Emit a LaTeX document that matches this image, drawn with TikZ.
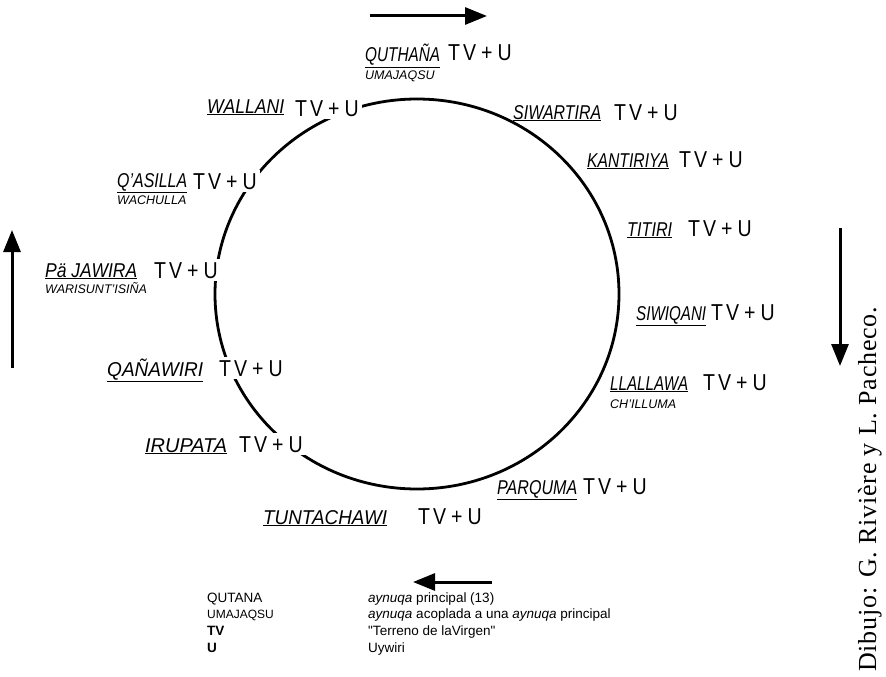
\documentclass[tikz,border=0pt]{standalone}
\usepackage{fontspec}
\usepackage{graphicx}
\setmainfont{Liberation Sans}
\newfontfamily\tvfont[FakeStretch=0.85]{Liberation Sans}
\newfontfamily\qfont[Ligatures=TeXOff]{Liberation Sans}
\newfontfamily\creditfont[LetterSpace=3]{Liberation Serif}
\usetikzlibrary{arrows.meta}
\newcommand{\tvu}{T\kern3pt V\kern5pt+\kern5pt U}
\newcommand{\nm}[2]{\resizebox{#1pt}{\height}{\underline{#2}}}
\begin{document}
\begin{tikzpicture}[x=1pt,y=-1pt,
  namelbl/.style={anchor=base west,inner sep=0pt,font=\fontsize{20}{22}\selectfont\itshape},
  sublbl/.style={anchor=base west,inner sep=0pt,font=\fontsize{12.5}{14}\selectfont\itshape},
  tvlbl/.style={anchor=base west,inner sep=3pt,fill=white,font=\fontsize{23}{26}\selectfont\tvfont},
  legA/.style={anchor=base west,inner sep=0pt,font=\fontsize{13.5}{16}\selectfont},
  bigarrow/.style={line width=3pt,-{Triangle[length=22pt,width=17pt]}}]
\useasboundingbox (0,0) rectangle (886,677);
% cycle
\draw[line width=2.8pt] (417,294) ellipse [x radius=202, y radius=195];
% names
\node[namelbl] (quthana) at (365,62) {\nm{75}{QUTHAÑA}};
\node[tvlbl] (quthanaTV) at (445,61) {\tvu};
\node[sublbl] (umajaqsu) at (365,79) {UMAJAQSU};
\node[namelbl] (wallani) at (207,113) {\nm{77}{WALLANI}};
\node[tvlbl] (wallaniTV) at (292,116) {\tvu};
\node[namelbl] (siwartira) at (513,119) {\nm{88}{SIWARTIRA}};
\node[tvlbl] (siwartiraTV) at (611,120) {\tvu};
\node[namelbl] (kantiriya) at (587,167) {\nm{82}{KANTIRIYA}};
\node[tvlbl] (kantiriyaTV) at (676,167) {\tvu};
\node[namelbl] (qasilla) at (117,187) {\nm{70}{Q'ASILLA}};
\node[tvlbl] (qasillaTV) at (190,189) {\tvu};
\node[sublbl] (wachulla) at (117,204) {WACHULLA};
\node[namelbl] (titiri) at (627,236) {\nm{45}{TITIRI}};
\node[tvlbl] (titiriTV) at (685,236) {\tvu};
\node[namelbl] (pajawira) at (45,277) {\nm{92}{Pä JAWIRA}};
\node[tvlbl] (pajawiraTV) at (151,278) {\tvu};
\node[sublbl] (warisuntisina) at (45,293) {WARISUNT'ISIÑA};
\node[namelbl] (siwiqani) at (636,320) {\nm{70}{SIWIQANI}};
\node[tvlbl] (siwiqaniTV) at (708,320) {\tvu};
\node[namelbl] (qanawiri) at (107,376) {\nm{96}{QAÑAWIRI}};
\node[tvlbl] (qanawiriTV) at (216,376) {\tvu};
\node[namelbl] (llallawa) at (610,390) {\nm{78}{LLALLAWA}};
\node[tvlbl] (llallawaTV) at (700,390) {\tvu};
\node[sublbl] (chilluma) at (610,408) {CH'ILLUMA};
\node[namelbl] (irupata) at (145,452) {\nm{82}{IRUPATA}};
\node[tvlbl] (irupataTV) at (236,452) {\tvu};
\node[namelbl] (parquma) at (497,494) {\nm{80}{PARQUMA}};
\node[tvlbl] (parqumaTV) at (580,494) {\tvu};
\node[namelbl] (tuntachawi) at (263,524) {\nm{124}{TUNTACHAWI}};
\node[tvlbl] (tuntachawiTV) at (415,524) {\tvu};
% direction arrows
\coordinate (topS) at (370,16);  \coordinate (topE) at (487,16);
\coordinate (leftS) at (12,368); \coordinate (leftE) at (12,230);
\coordinate (rightS) at (840,228); \coordinate (rightE) at (840,366);
\coordinate (botS) at (492,582); \coordinate (botE) at (413,582);
\draw[bigarrow] (topS) -- (topE);
\draw[bigarrow] (leftS) -- (leftE);
\draw[bigarrow] (rightS) -- (rightE);
\draw[bigarrow] (botS) -- (botE);
% legend
\node[legA] (k1) at (207,602) {QUTANA};
\node[legA,font=\fontsize{12}{14}\selectfont] (k2) at (207,618) {UMAJAQSU};
\node[legA,font=\fontsize{13.5}{16}\selectfont\bfseries] (k3) at (207,635) {TV};
\node[legA,font=\fontsize{13.5}{16}\selectfont\bfseries] (k4) at (207,652) {U};
\node[legA] (v1) at (368,602) {\textit{aynuqa} principal (13)};
\node[legA] (v2) at (368,618) {\textit{aynuqa} acoplada a una \textit{aynuqa} principal};
\node[legA,font=\fontsize{13.5}{16}\selectfont\qfont] (v3) at (368,635) {"Terreno de laVirgen"};
\node[legA] (v4) at (368,652) {Uywiri};
% credit
\node[rotate=90,anchor=base west,inner sep=0pt,font=\fontsize{26}{28}\selectfont\creditfont] (credit) at (876,672) {Dibujo: G. Rivière y L. Pacheco.};
\end{tikzpicture}
\end{document}
